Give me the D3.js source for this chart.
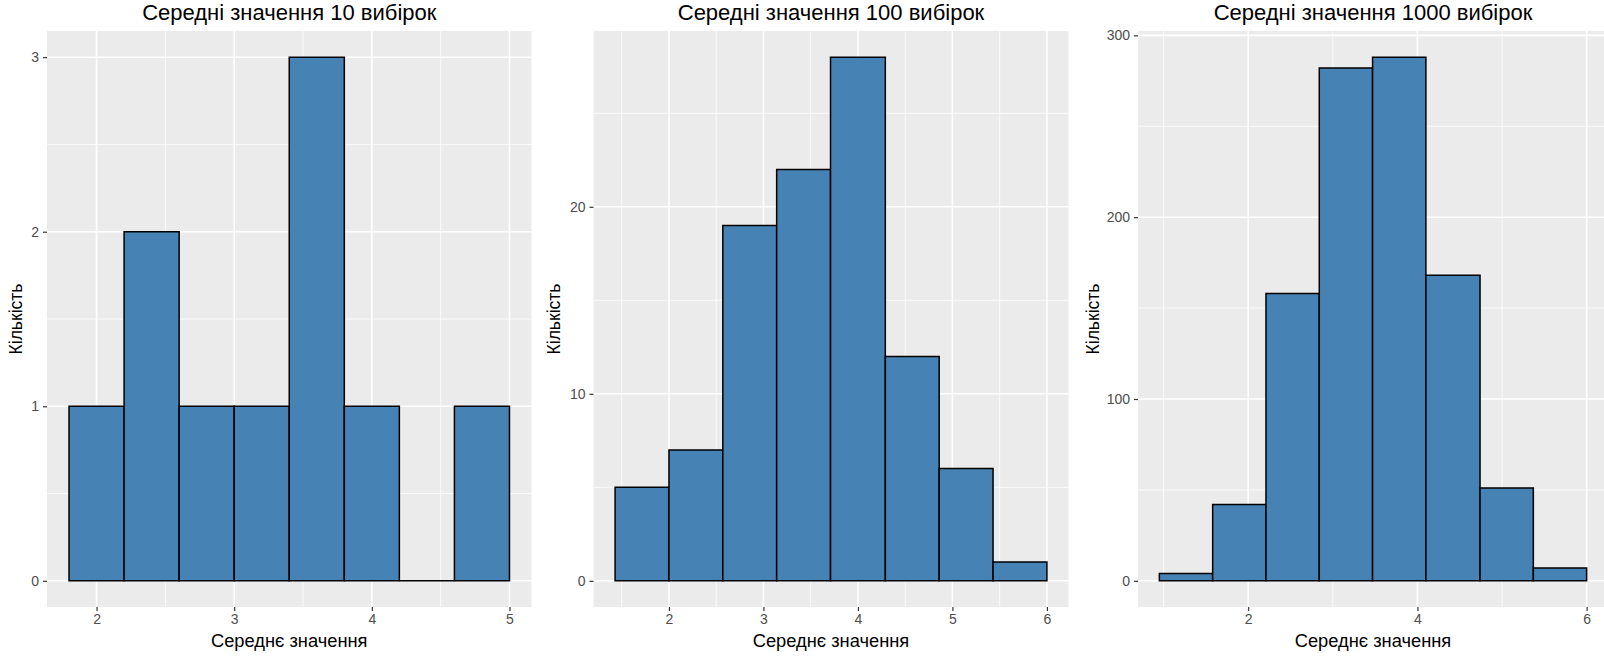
<!DOCTYPE html>
<html>
<head>
<meta charset="utf-8">
<script src="https://cdn.jsdelivr.net/npm/d3@7"></script>
<style>
  body { margin: 0; background: #fff; }
  svg { display: block; font-family: "Liberation Sans", Arial, sans-serif; }
</style>
</head>
<body>
<div id="chart"></div>
<script>
// data
var titles = ["Середні значення 10 вибірок", "Середні значення 100 вибірок", "Середні значення 1000 вибірок"];
var xLabel = "Середнє значення";
var yLabel = "Кількість";

var edges10 = [1.8, 2.2, 2.6, 3.0, 3.4, 3.8, 4.2, 4.6, 5.0];
var counts10 = [1, 2, 1, 1, 3, 1, 0, 1];
var edges100 = [1.43, 2.0, 2.57, 3.14, 3.71, 4.29, 4.86, 5.43, 6.0];
var counts100 = [5, 7, 19, 22, 28, 12, 6, 1];
var edges1000 = [0.95, 1.58, 2.21, 2.84, 3.47, 4.10, 4.74, 5.37, 6.0];
var counts1000 = [4, 42, 158, 282, 288, 168, 51, 7];

var xTicks10 = [2, 3, 4, 5], yTicks10 = [0, 1, 2, 3];
var xTicks100 = [2, 3, 4, 5, 6], yTicks100 = [0, 10, 20];
var xTicks1000 = [2, 4, 6], yTicks1000 = [0, 100, 200, 300];

var width = 1604, height = 656;
var plotTop = 31, plotBottom = 607;

var panels = [
    { title: titles[0], edges: edges10, counts: counts10, xt: xTicks10, yt: yTicks10, left: 47, right: 531.5, ylab: 16 },
    { title: titles[1], edges: edges100, counts: counts100, xt: xTicks100, yt: yTicks100, left: 593.5, right: 1068.5, ylab: 554 },
    { title: titles[2], edges: edges1000, counts: counts1000, xt: xTicks1000, yt: yTicks1000, left: 1138, right: 1608, ylab: 1093 }
];

var svg = d3.select("#chart")
    .append("svg")
    .attr("width", width)
    .attr("height", height);

// ggplot style minor breaks: halfway between majors, one step past each end
function minors(ticks, dom) {
    var step = ticks[1] - ticks[0];
    var out = [];
    for (var v = ticks[0] - step / 2; v <= ticks[ticks.length - 1] + step; v += step) {
        if (v >= dom[0] && v <= dom[1]) out.push(v);
    }
    return out;
}

panels.forEach(function (p) {
    var lo = p.edges[0], hi = p.edges[p.edges.length - 1];
    var padX = (hi - lo) * 0.05;
    var maxY = d3.max(p.counts);
    var xDom = [lo - padX, hi + padX];
    var yDom = [-maxY * 0.05, maxY * 1.05];

    var x = d3.scaleLinear().domain(xDom).range([p.left, p.right]);
    var y = d3.scaleLinear().domain(yDom).range([plotBottom, plotTop]);

    var g = svg.append("g");

    g.append("rect")
        .attr("x", p.left)
        .attr("y", plotTop)
        .attr("width", p.right - p.left)
        .attr("height", plotBottom - plotTop)
        .style("fill", "#ebebeb");

    // grid
    g.selectAll(".xminor")
        .data(minors(p.xt, xDom))
        .enter().append("line")
        .attr("x1", function (d) { return x(d); })
        .attr("x2", function (d) { return x(d); })
        .attr("y1", plotTop).attr("y2", plotBottom)
        .style("stroke", "#fff").style("stroke-width", 0.8);
    g.selectAll(".yminor")
        .data(minors(p.yt, yDom))
        .enter().append("line")
        .attr("y1", function (d) { return y(d); })
        .attr("y2", function (d) { return y(d); })
        .attr("x1", p.left).attr("x2", p.right)
        .style("stroke", "#fff").style("stroke-width", 0.8);
    g.selectAll(".xmajor")
        .data(p.xt)
        .enter().append("line")
        .attr("x1", function (d) { return x(d); })
        .attr("x2", function (d) { return x(d); })
        .attr("y1", plotTop).attr("y2", plotBottom)
        .style("stroke", "#fff").style("stroke-width", 1.6);
    g.selectAll(".ymajor")
        .data(p.yt)
        .enter().append("line")
        .attr("y1", function (d) { return y(d); })
        .attr("y2", function (d) { return y(d); })
        .attr("x1", p.left).attr("x2", p.right)
        .style("stroke", "#fff").style("stroke-width", 1.6);

    // bars (paths so that empty bins still show a line at zero)
    g.selectAll(".bar")
        .data(p.counts)
        .enter().append("path")
        .attr("d", function (d, i) {
            var x0 = x(p.edges[i]), x1 = x(p.edges[i + 1]);
            return "M" + x0 + "," + y(0) + "V" + y(d) + "H" + x1 + "V" + y(0) + "Z";
        })
        .style("fill", "#4682b4")
        .style("stroke", "#000")
        .style("stroke-width", 1.5);

    // axes
    var xa = g.append("g")
        .attr("transform", "translate(0," + plotBottom + ")")
        .call(d3.axisBottom(x).tickValues(p.xt).tickSize(4).tickPadding(3).tickFormat(d3.format("d")));
    var ya = g.append("g")
        .attr("transform", "translate(" + p.left + ",0)")
        .call(d3.axisLeft(y).tickValues(p.yt).tickSize(4).tickPadding(4).tickFormat(d3.format("d")));
    [xa, ya].forEach(function (a) {
        a.select(".domain").remove();
        a.selectAll(".tick line").style("stroke", "#333").style("stroke-width", 1.2);
        a.selectAll(".tick text")
            .style("fill", "#4d4d4d")
            .style("font-size", "14px")
            .style("font-family", "'Liberation Sans', Arial, sans-serif");
    });

    // titles
    g.append("text")
        .attr("x", (p.left + p.right) / 2)
        .attr("y", 20)
        .attr("text-anchor", "middle")
        .style("font-size", "22px")
        .style("fill", "#000")
        .text(p.title);

    g.append("text")
        .attr("x", (p.left + p.right) / 2)
        .attr("y", 647)
        .attr("text-anchor", "middle")
        .style("font-size", "18.3px")
        .style("fill", "#000")
        .text(xLabel);

    g.append("text")
        .attr("transform", "translate(" + (p.ylab + 6) + "," + ((plotTop + plotBottom) / 2) + ") rotate(-90)")
        .attr("text-anchor", "middle")
        .style("font-size", "17.5px")
        .style("fill", "#000")
        .text(yLabel);
});
</script>
</body>
</html>
